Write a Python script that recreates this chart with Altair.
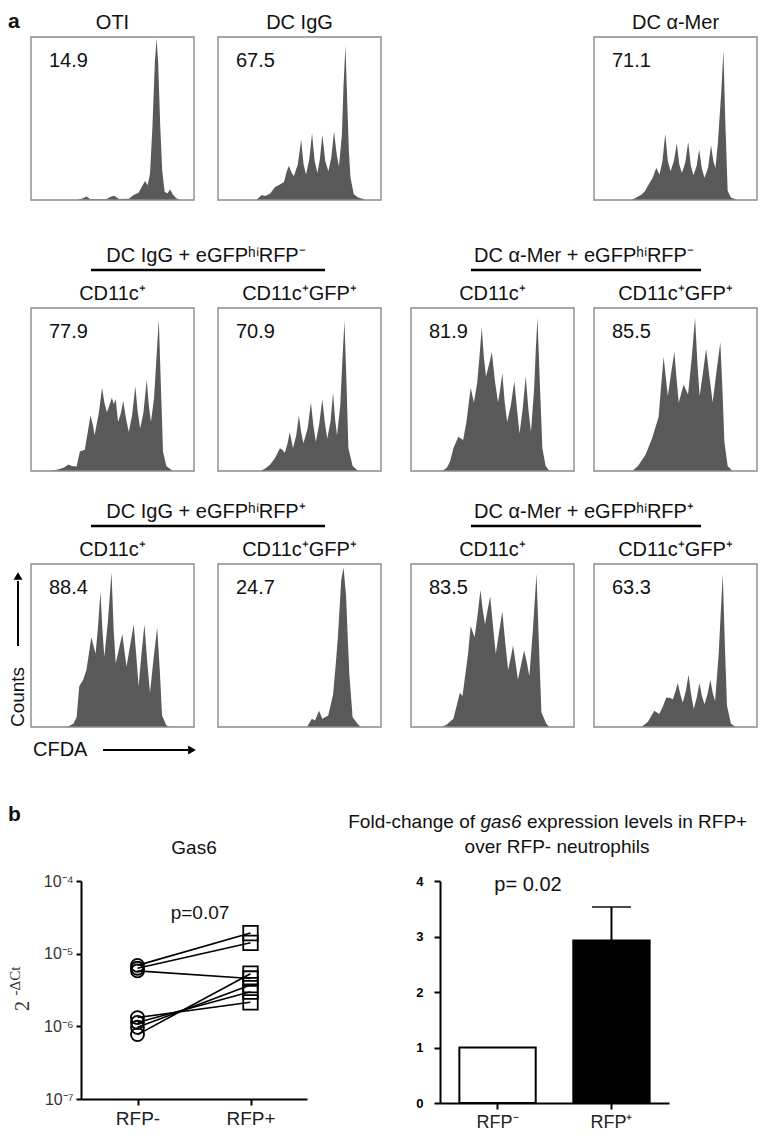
import altair as alt
import pandas as pd

FONT = "Liberation Sans"
SERIF = "Liberation Serif"
W, H = 163, 163          # histogram box size
FILL = "#595959"

# ---------------- panel a: CFDA histograms (x = CFDA %, y = counts % of box) -------------
OTI = [(28, 0), (32, 1), (34, 2.2), (36.5, 0.5), (46, 0.4), (49, 2), (51, 2.6), (54, 0.6), (60, 0.8),
       (63, 3), (66, 4.5), (68.5, 9), (70, 11.6), (71.5, 9), (73, 16), (74.5, 45), (76, 85), (77, 99),
       (78, 85), (79.3, 45), (80.5, 18), (82, 5), (83.6, 4), (85.4, 6.5), (87.2, 3), (89.2, 1), (91.5, 0)]
DC_IGG = [(23.5, 0), (26.8, 3), (29, 2.5), (32, 4), (35, 8), (38, 9.5), (40.5, 11), (42, 17), (43.5, 21),
          (45, 17), (46.5, 14.6), (49, 22), (51, 37), (52.5, 22), (54, 15.6), (56, 25), (57.7, 41),
          (59.3, 24), (61, 16.6), (62.5, 25), (64, 40), (65.8, 24), (67.7, 17.6), (69.5, 26), (71.2, 42),
          (72.8, 28), (74.2, 20.6), (76, 40), (77, 70), (78.2, 94.6), (79.3, 60), (80.3, 30), (81.3, 13.6),
          (83.3, 3.6), (86, 1.5), (89.3, 0.6), (90, 0)]
DC_AMER = [(22.9, 0), (26, 1.5), (29, 3.2), (31, 5), (33, 8.6), (36, 13.6), (38.2, 19.6), (40.2, 15.6),
           (42, 24), (43.7, 40.6), (45.3, 24), (47, 17.6), (49, 24), (50.8, 34.6), (52.3, 22), (53.9, 16.6),
           (56, 23), (57.8, 35.6), (59.4, 21), (61, 15.2), (63, 21), (64.5, 31), (66.2, 19), (67.8, 13.6),
           (70, 20), (71.8, 33.6), (73.2, 24), (74.5, 19.6), (76, 35), (78, 65), (79.4, 91.6), (80.5, 50),
           (82, 5.6), (84, 1.6), (88, 0)]
IGG_NEG_CD11C = [(11, 0), (16, 0.8), (20, 2), (23, 4), (25, 3), (28, 2.8), (30, 12), (33, 13), (35, 25),
                 (36.5, 34), (38, 28), (39, 22), (41.5, 35), (43.6, 51), (45, 42), (46.6, 36), (48, 40),
                 (49.6, 45), (50.8, 41), (52, 44), (53.4, 30), (55, 35), (56.6, 43), (58.3, 32), (60, 24),
                 (62, 34), (64, 52), (65.5, 36), (67, 26), (69, 36), (71, 56), (72.3, 40), (73.6, 30),
                 (75.5, 45), (77, 70), (78.4, 93), (79.6, 55), (81, 12), (83, 3), (87, 0)]
IGG_NEG_GFP = [(26, 0), (29, 1.5), (32, 4), (35, 8), (38, 14), (39.5, 13), (41, 11), (42.7, 17), (44, 24),
               (45, 19), (46, 14), (48, 22), (49.6, 34), (51, 24), (52.4, 17), (55, 26), (57, 42), (58.5, 28),
               (60, 18), (62, 28), (64, 44), (65.5, 30), (67, 20), (69, 30), (70.6, 48), (71.8, 32), (73, 22),
               (75, 40), (76.4, 70), (77.6, 92), (78.8, 55), (80, 14), (82.6, 3), (86, 0)]
MER_NEG_CD11C = [(19, 0), (22, 2), (24, 6), (26, 14), (29, 21), (32, 19), (34, 30), (36.6, 51), (38.6, 42),
                 (40.6, 54), (42, 70), (43.4, 88), (44.7, 70), (46, 58), (47.8, 65), (49.6, 73), (51.5, 55),
                 (53.4, 42), (54.7, 50), (56, 60), (57.5, 42), (59, 30), (61.2, 40), (63.4, 55), (65, 38),
                 (66.6, 23), (68.5, 38), (70.4, 58), (72, 38), (73.6, 24), (75.5, 50), (76.6, 75), (77.6, 94),
                 (79, 55), (80.6, 14), (82.6, 3), (85, 0)]
MER_NEG_GFP = [(23.5, 0), (27, 3), (31.6, 10), (35.6, 20), (39.6, 33), (41, 50), (42.7, 70), (44, 58),
               (45.3, 46), (47.3, 60), (49.3, 73), (50.7, 56), (52, 42), (55, 53), (56.3, 50), (57.7, 47),
               (60, 70), (62, 94), (63.5, 65), (64.8, 46), (66.8, 60), (68.8, 75), (70.8, 58), (72.8, 42),
               (75, 60), (77.5, 79), (78.8, 50), (80, 18), (82, 3), (85, 0)]
IGG_POS_CD11C = [(20, 0), (23, 0.5), (26, 2), (28, 6), (29.6, 25), (32, 29), (34, 35), (35.5, 45), (37, 55),
                 (38.3, 50), (39.6, 45), (41, 60), (42.6, 83), (43.8, 60), (45, 43), (47.2, 65), (49.4, 95),
                 (50.7, 60), (52, 39), (54, 48), (56, 57), (57.3, 47), (58.6, 37), (60.8, 50), (63, 63),
                 (64.5, 45), (66, 25), (67.8, 45), (69.6, 63), (71.3, 40), (73, 21), (75.2, 42), (77.4, 61),
                 (79, 35), (80.4, 7), (83, 1), (85, 0)]
IGG_POS_GFP = [(54.6, 0), (57.6, 5), (59.5, 4), (62, 10), (64, 5), (67.6, 7), (70.6, 20), (72.2, 38),
               (73.6, 56), (75.6, 90), (77, 98), (78.6, 80), (79.6, 55), (80.6, 32), (82.6, 6), (85.6, 2),
               (87.6, 0)]
MER_POS_CD11C = [(19, 0), (22, 1.5), (26, 5), (30, 21), (31.6, 19), (35, 45), (36.6, 62), (39, 55), (41, 70),
                 (42.6, 84), (44, 72), (45.4, 63), (47, 72), (48.6, 80), (50.3, 62), (52, 45), (54, 58),
                 (56, 71), (57.8, 52), (59.6, 35), (61.1, 42), (62.6, 50), (64.1, 40), (65.6, 29), (67.5, 38),
                 (69.4, 47), (71, 40), (72.6, 31), (74.8, 60), (77, 94), (78.5, 50), (80, 9), (83, 2), (85, 0)]
MER_POS_GFP = [(29, 0), (33, 3), (37, 10), (40, 8), (42, 12), (44.3, 18), (46.4, 18), (48.4, 17), (50, 22),
               (51.4, 27), (53, 20), (54.5, 15), (56.3, 22), (58, 32), (59.6, 20), (61.2, 11), (63, 18),
               (64.7, 27), (66.2, 19), (67.8, 14), (69.6, 20), (71.4, 29), (72.8, 21), (74.3, 16), (76.5, 45),
               (78, 75), (79, 94), (80.3, 50), (81.6, 13), (84, 2), (87, 0)]

PERCENTS = ["14.9", "67.5", "71.1", "77.9", "70.9", "81.9", "85.5", "88.4", "24.7", "83.5", "63.3"]
ROW1_TITLES = ["OTI", "DC IgG", "DC \u03b1-Mer"]
SUBTITLES = ["CD11c\u207a", "CD11c\u207aGFP\u207a"]
GROUP_TITLES = ["DC IgG + eGFP\u02b0\u2071RFP\u207b", "DC \u03b1-Mer + eGFP\u02b0\u2071RFP\u207b",
                "DC IgG + eGFP\u02b0\u2071RFP\u207a", "DC \u03b1-Mer + eGFP\u02b0\u2071RFP\u207a"]

# ---------------- panel b ----------------
GAS6_GROUPS = ["RFP-", "RFP+"]
RFP_MINUS = [6.9e-6, 6.3e-6, 5.8e-6, 1.32e-6, 1.13e-6, 9.7e-7, 7.7e-7]
RFP_PLUS = [1.92e-5, 1.41e-5, 4.55e-6, 2.14e-6, 3.0e-6, 3.7e-6, 5.3e-6]
GAS6_TICKS = [1e-7, 1e-6, 1e-5, 1e-4]
BAR_CATS = ["RFP\u207b", "RFP\u207a"]
BAR_MEAN = [1.0, 2.93]
BAR_SEM = [0.0, 0.6]

ONE = pd.DataFrame({"t": [""]})
NOFRAME = alt.ViewBackground(stroke="transparent")


def text_layer(t, x, y, size=20, align="center", baseline="middle", weight="normal",
               angle=0, style="normal", font=FONT, color="#111111"):
    kw = dict(fontSize=size, align=align, baseline=baseline, fontWeight=weight,
              font=font, color=color, fontStyle=style)
    if angle:
        kw["angle"] = angle
    return alt.Chart(pd.DataFrame({"t": [t]})).mark_text(**kw).encode(
        text="t:N", x=alt.value(x), y=alt.value(y))


# layout of panel a (pixel origin of each box inside the panel)
C0, C1, C2, C3 = 23, 210, 403, 586
R1, R2, R3 = 26, 297, 553
PANEL_A_W, PANEL_A_H = 750, 752


def hist_layer(points, x0, y0):
    df = pd.DataFrame(points, columns=["cfda", "count"])
    xs = alt.Scale(domain=[0, 100], range=[x0, x0 + W])
    ys = alt.Scale(domain=[0, 100], range=[y0 + H, y0])
    area = alt.Chart(df).mark_area(color=FILL, interpolate="linear").encode(
        x=alt.X("cfda:Q", scale=xs, axis=None),
        y=alt.Y("count:Q", scale=ys, axis=None))
    frame = alt.Chart(ONE).mark_rect(fillOpacity=0, stroke="#8a8a8a", strokeWidth=1.4).encode(
        x=alt.XDatum(0, type="quantitative", scale=xs, axis=None), x2=alt.X2Datum(100),
        y=alt.YDatum(0, type="quantitative", scale=ys, axis=None), y2=alt.Y2Datum(100))
    return alt.layer(area, frame)


panels = [
    (OTI, C0, R1, PERCENTS[0], ROW1_TITLES[0]),
    (DC_IGG, C1, R1, PERCENTS[1], ROW1_TITLES[1]),
    (DC_AMER, C3, R1, PERCENTS[2], ROW1_TITLES[2]),
    (IGG_NEG_CD11C, C0, R2, PERCENTS[3], SUBTITLES[0]),
    (IGG_NEG_GFP, C1, R2, PERCENTS[4], SUBTITLES[1]),
    (MER_NEG_CD11C, C2, R2, PERCENTS[5], SUBTITLES[0]),
    (MER_NEG_GFP, C3, R2, PERCENTS[6], SUBTITLES[1]),
    (IGG_POS_CD11C, C0, R3, PERCENTS[7], SUBTITLES[0]),
    (IGG_POS_GFP, C1, R3, PERCENTS[8], SUBTITLES[1]),
    (MER_POS_CD11C, C2, R3, PERCENTS[9], SUBTITLES[0]),
    (MER_POS_GFP, C3, R3, PERCENTS[10], SUBTITLES[1]),
]

layers_a = []
for pts, x0, y0, pct, ttl in panels:
    layers_a.append(hist_layer(pts, x0, y0))
for pts, x0, y0, pct, ttl in panels:
    layers_a.append(text_layer(pct, x0 + 18, y0 + 24, align="left"))
    layers_a.append(text_layer(ttl, x0 + W / 2, y0 - 14))

# group headers with underline
for ttl, gx0, gx1, gy in [(GROUP_TITLES[0], C0, C1 + W, R2), (GROUP_TITLES[1], C2, C3 + W, R2),
                          (GROUP_TITLES[2], C0, C1 + W, R3), (GROUP_TITLES[3], C2, C3 + W, R3)]:
    layers_a.append(text_layer(ttl, (gx0 + gx1) / 2, gy - 52))
    layers_a.append(alt.Chart(ONE).mark_rule(color="black", strokeWidth=2.5).encode(
        x=alt.value(gx0 + 60), x2=alt.value(gx1 - 56), y=alt.value(gy - 38)))

# panel label and Counts / CFDA arrows
layers_a += [
    text_layer("a", 0, 0, size=21, align="left", baseline="top", weight="bold"),
    alt.Chart(ONE).mark_rule(color="black", strokeWidth=2).encode(
        x=alt.value(10), y=alt.value(R3 + 17), y2=alt.value(R3 + 82)),
    alt.Chart(ONE).mark_point(shape="triangle-up", filled=True, color="black", size=80, opacity=1).encode(
        x=alt.value(10), y=alt.value(R3 + 12)),
    text_layer("Counts", 10, R3 + 133, size=19, angle=270),
    text_layer("CFDA", C0 + 2, R3 + H + 23, align="left"),
    alt.Chart(ONE).mark_rule(color="black", strokeWidth=2).encode(
        x=alt.value(C0 + 72), x2=alt.value(C0 + 157), y=alt.value(R3 + H + 23)),
    alt.Chart(ONE).mark_point(shape="triangle-right", filled=True, color="black", size=80, opacity=1).encode(
        x=alt.value(C0 + 161), y=alt.value(R3 + H + 23)),
]

panel_a = alt.layer(*layers_a).resolve_scale(x="independent", y="independent").properties(
    width=PANEL_A_W, height=PANEL_A_H, view=NOFRAME)

# ---------------- Gas6 paired plot ----------------
GW, GH = 226, 218
rows = []
for i, (m, p) in enumerate(zip(RFP_MINUS, RFP_PLUS)):
    rows.append({"pid": i, "group": GAS6_GROUPS[0], "value": m})
    rows.append({"pid": i, "group": GAS6_GROUPS[1], "value": p})
gdf = pd.DataFrame(rows)

gx = alt.X("group:N", scale=alt.Scale(domain=GAS6_GROUPS, padding=0.5),
           axis=alt.Axis(title=None, labelAngle=0, labelFontSize=19, labelFont=FONT, labelColor="#222222",
                         domainColor="black", domainWidth=2, tickColor="black", tickWidth=2, tickSize=6,
                         labelPadding=4, grid=False))
gy = alt.Y("value:Q", scale=alt.Scale(type="log", domain=[1e-7, 1e-4], nice=False),
           axis=alt.Axis(title=None, values=GAS6_TICKS, grid=False, domainColor="black", domainWidth=2,
                         tickColor="black", tickWidth=2, tickSize=5, labelFontSize=16, labelFont=FONT,
                         labelColor="#333333", labelPadding=3,
                         labelExpr="['10\u207b\u2077','10\u207b\u2076','10\u207b\u2075','10\u207b\u2074'][round(log(datum.value)/LN10)+7]"))
gbase = alt.Chart(gdf)
glines = gbase.mark_line(color="black", strokeWidth=1.6).encode(x=gx, y=gy, detail="pid:N")
gcirc = gbase.transform_filter(alt.datum.group == GAS6_GROUPS[0]).mark_point(
    shape="circle", filled=False, color="black", strokeWidth=1.8, size=170, opacity=1).encode(x=gx, y=gy)
gsq = gbase.transform_filter(alt.datum.group == GAS6_GROUPS[1]).mark_point(
    shape="square", filled=False, color="black", strokeWidth=1.8, size=210, opacity=1).encode(x=gx, y=gy)
gas6 = alt.layer(
    glines, gcirc, gsq,
    text_layer("Gas6", GW / 2, -33, size=19),
    text_layer("p=0.07", 119, 32, size=19),
    text_layer("2", -58, 125, size=20, angle=270, font=SERIF, color="#333333"),
    text_layer("-\u0394Ct", -66, 100, size=15, angle=270, font=SERIF, color="#333333"),
).properties(width=GW, height=GH, view=NOFRAME)

# spacers that hold the panel label and the gap between the two panel-b charts
spacer_left = alt.layer(
    text_layer("b", 0, -60, size=21, align="left", baseline="alphabetic", weight="bold")
).properties(width=73, height=GH, view=NOFRAME)
spacer_mid = alt.layer(text_layer("", 0, 0)).properties(width=133, height=GH, view=NOFRAME)

# ---------------- bar chart ----------------
BW, BH = 229, 222
bdf = pd.DataFrame({"cat": BAR_CATS, "mean": BAR_MEAN, "sem": BAR_SEM})
bdf["upper"] = bdf["mean"] + bdf["sem"]
bx = alt.X("cat:N", scale=alt.Scale(domain=BAR_CATS, paddingInner=0.33, paddingOuter=0.17),
           axis=alt.Axis(title=None, labelAngle=0, labelFontSize=18, labelFont=FONT, labelColor="#222222",
                         domainColor="black", domainWidth=2, tickColor="black", tickWidth=2, tickSize=6,
                         labelPadding=4, grid=False))
by_axis = alt.Axis(title=None, values=[0, 1, 2, 3, 4], grid=False, labelFontSize=13, labelFontWeight="bold",
                   labelFont=FONT, labelColor="black", domainColor="black", domainWidth=2,
                   tickColor="black", tickWidth=2, tickSize=6, labelPadding=11)
bscale = alt.Scale(domain=[0, 4], nice=False)
bbase = alt.Chart(bdf)
bars = bbase.mark_bar(stroke="black", strokeWidth=2).encode(
    x=bx, y=alt.Y("mean:Q", scale=bscale, axis=by_axis),
    fill=alt.Fill("cat:N", scale=alt.Scale(domain=BAR_CATS, range=["white", "black"]), legend=None))
errs = bbase.transform_filter(alt.datum.sem > 0)
erule = errs.mark_rule(color="black", strokeWidth=2).encode(
    x=bx, y=alt.Y("mean:Q", scale=bscale, axis=by_axis), y2="upper:Q")
etick = errs.mark_tick(color="black", thickness=2, size=39).encode(
    x=bx, y=alt.Y("upper:Q", scale=bscale, axis=by_axis))
barchart = alt.layer(
    bars, erule, etick,
    text_layer("p= 0.02", 88, 4, size=20),
    text_layer("Fold-change of", 35, -59, size=19, align="right"),
    text_layer("gas6", 61, -59, size=19, style="italic"),
    text_layer("expression levels in RFP+", 87, -59, size=19, align="left"),
    text_layer("over RFP- neutrophils", 117, -34, size=19),
).properties(width=BW, height=BH, view=NOFRAME)

row_b = alt.hconcat(spacer_left, gas6, spacer_mid, barchart, spacing=0, bounds="flush")

chart = alt.vconcat(panel_a, row_b, spacing=41).properties(
    padding={"top": 3, "left": 0, "right": 0, "bottom": 0}).configure_view(strokeWidth=0)

chart.save("out.html", embed_options={"renderer": "svg", "actions": False})
